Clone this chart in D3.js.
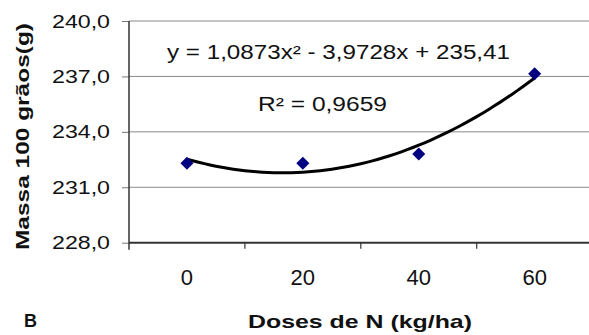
<!DOCTYPE html>
<html>
<head>
<meta charset="utf-8">
<script src="https://cdn.jsdelivr.net/npm/d3@7"></script>
<style>
  body { margin: 0; background: #fff; }
  text { font-family: "Liberation Sans", Arial, sans-serif; fill: #111; }
</style>
</head>
<body>
<div id="chart"></div>
<script>
// values
var categories = ["0", "20", "40", "60"];
var massa = [232.3, 232.3, 232.8, 237.15];
var yTicks = [228, 231, 234, 237, 240];
// Excel polynomial trendline, x = 1..4
var trendCoef = [1.0873, -3.9728, 235.41];
var equationLabel = "y = 1,0873x² - 3,9728x + 235,41";
var r2Label = "R² = 0,9659";

var width = 589, height = 335;
var plotLeft = 129, plotRight = 592.6, plotTop = 21, plotBottom = 242.7;

var svg = d3.select('#chart').append('svg').attr('width', width).attr('height', height);

var x = d3.scaleBand().domain(categories).range([plotLeft, plotRight]);
var y = d3.scaleLinear().domain([228, 240]).range([plotBottom, plotTop]);
var fmt = d3.formatLocale({decimal: ",", thousands: ".", grouping: [3], currency: ["", ""]}).format(".1f");

// gridlines
svg.append('g').selectAll('line')
   .data(yTicks.slice(1))
   .enter().append('line')
   .attr('x1', plotLeft).attr('x2', plotRight)
   .attr('y1', function (d) { return y(d); })
   .attr('y2', function (d) { return y(d); })
   .attr('stroke', '#8a8a8a');

// y axis
var yAxis = svg.append('g')
   .attr('transform', 'translate(' + plotLeft + ',0)')
   .call(d3.axisLeft(y).tickValues(yTicks).tickSize(7).tickSizeOuter(0).tickPadding(12).tickFormat(fmt));
yAxis.select('.domain').remove();
yAxis.selectAll('line').attr('stroke', '#777');
yAxis.selectAll('text')
   .attr('fill', '#111')
   .style('font-size', '19px')
   .attr('textLength', 58)
   .attr('lengthAdjust', 'spacingAndGlyphs');
svg.append('line')
   .attr('x1', plotLeft).attr('x2', plotLeft)
   .attr('y1', plotTop).attr('y2', plotBottom + 7)
   .attr('stroke', '#333').attr('stroke-width', 1.5);

// x axis (labels at band centres, ticks on band edges)
var xAxis = svg.append('g')
   .attr('transform', 'translate(0,' + plotBottom + ')')
   .call(d3.axisBottom(x).tickSize(0).tickPadding(27));
xAxis.select('.domain').remove();
xAxis.selectAll('text')
   .attr('fill', '#111')
   .style('font-size', '22px');
svg.append('line')
   .attr('x1', plotLeft).attr('x2', width)
   .attr('y1', plotBottom).attr('y2', plotBottom)
   .attr('stroke', '#333').attr('stroke-width', 2);
svg.append('g').selectAll('line')
   .data(categories.slice(1))
   .enter().append('line')
   .attr('x1', function (d) { return x(d); })
   .attr('x2', function (d) { return x(d); })
   .attr('y1', plotBottom).attr('y2', plotBottom + 6)
   .attr('stroke', '#333').attr('stroke-width', 1.2);

// trendline
var t = d3.scaleLinear().domain([1, 4])
   .range([x(categories[0]) + x.bandwidth() / 2, x(categories[3]) + x.bandwidth() / 2]);
var trendPts = d3.range(1, 4.0001, 0.05).map(function (k) {
  return [t(k), y(trendCoef[0] * k * k + trendCoef[1] * k + trendCoef[2])];
});
svg.append('path')
   .attr('d', d3.line()(trendPts))
   .attr('fill', 'none')
   .attr('stroke', '#000')
   .attr('stroke-width', 3);

// data markers
svg.append('g').selectAll('path')
   .data(massa)
   .enter().append('path')
   .attr('d', d3.symbol().type(d3.symbolSquare).size(85))
   .attr('transform', function (d, i) {
      return 'translate(' + (x(categories[i]) + x.bandwidth() / 2) + ',' + y(d) + ') rotate(45)';
   })
   .attr('fill', '#000080');

// equation and R2
svg.append('text')
   .attr('x', 338.5).attr('y', 58.5)
   .attr('text-anchor', 'middle')
   .style('font-size', '19.5px')
   .attr('textLength', 343).attr('lengthAdjust', 'spacingAndGlyphs')
   .text(equationLabel);
svg.append('text')
   .attr('x', 322.5).attr('y', 110.5)
   .attr('text-anchor', 'middle')
   .style('font-size', '19.5px')
   .attr('textLength', 129).attr('lengthAdjust', 'spacingAndGlyphs')
   .text(r2Label);

// axis titles
svg.append('text')
   .attr('transform', 'translate(29,136.5) rotate(-90)')
   .attr('text-anchor', 'middle')
   .style('font-size', '19px').style('font-weight', 'bold')
   .attr('textLength', 227).attr('lengthAdjust', 'spacingAndGlyphs')
   .text('Massa 100 grãos(g)');
svg.append('text')
   .attr('x', 360).attr('y', 328)
   .attr('text-anchor', 'middle')
   .style('font-size', '19px').style('font-weight', 'bold')
   .attr('textLength', 224).attr('lengthAdjust', 'spacingAndGlyphs')
   .text('Doses de N (kg/ha)');
svg.append('text')
   .attr('x', 24).attr('y', 327)
   .style('font-size', '18px').style('font-weight', 'bold')
   .text('B');
</script>
</body>
</html>
